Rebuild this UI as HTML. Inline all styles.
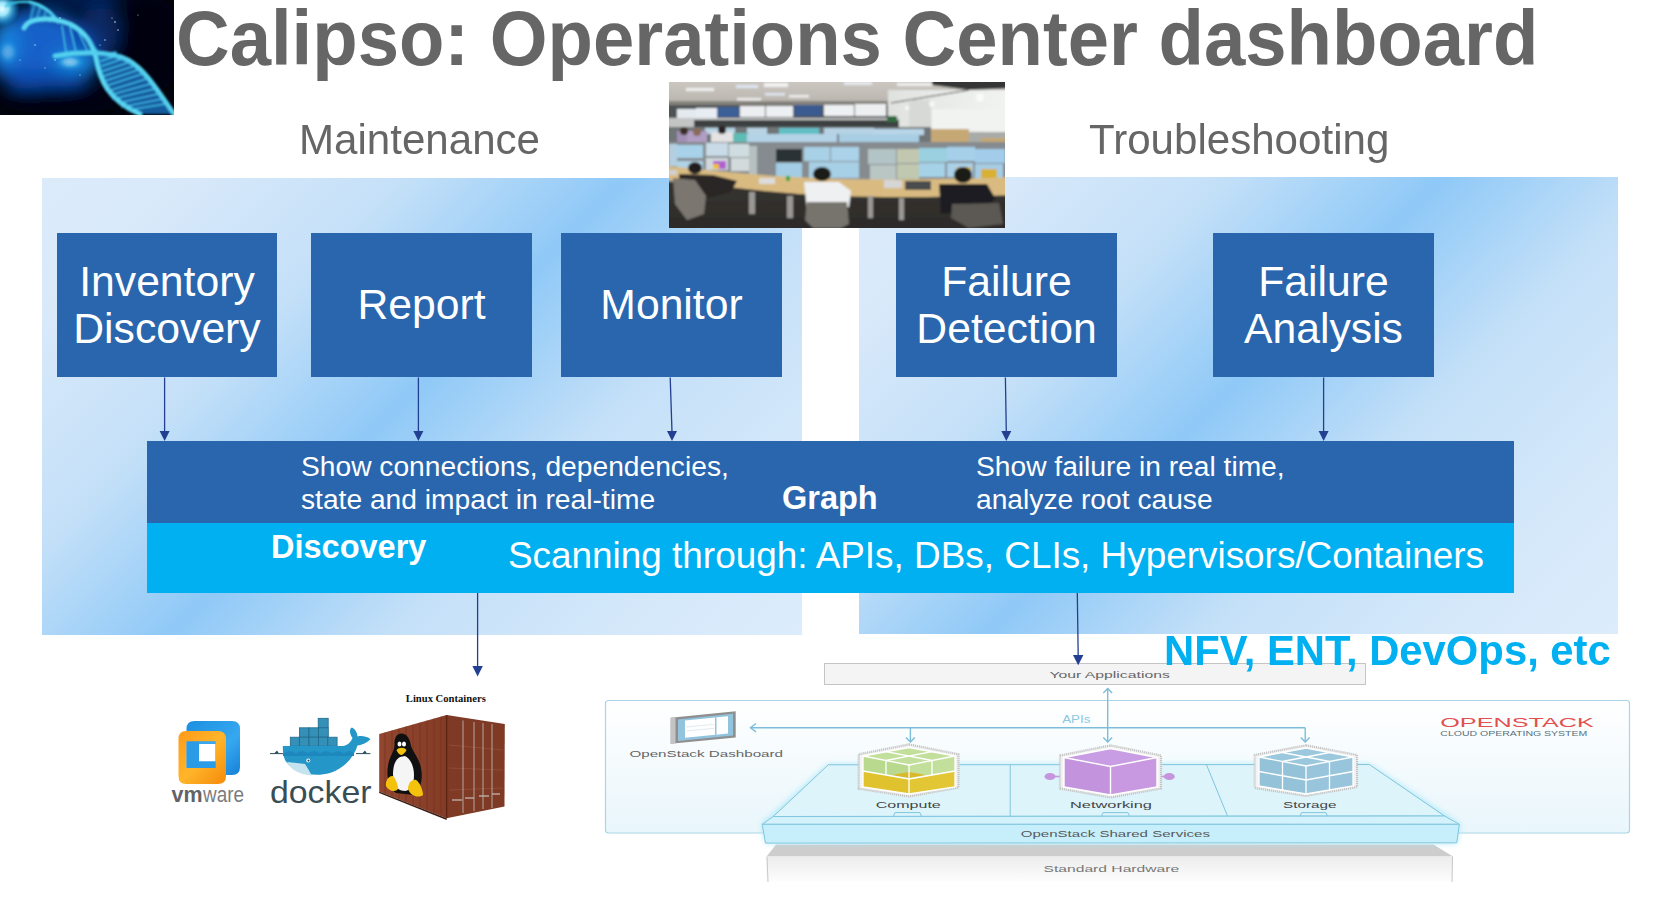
<!DOCTYPE html>
<html><head><meta charset="utf-8">
<style>
html,body{margin:0;padding:0;background:#fff;}
body{width:1663px;height:901px;position:relative;overflow:hidden;font-family:"Liberation Sans",sans-serif;}
.a{position:absolute;}
.t{position:absolute;white-space:nowrap;line-height:1;}
.panel{position:absolute;background:linear-gradient(135deg,#dcebfa 0%,#d8e9fa 12%,#c4e0f8 30%,#8fc9f7 48%,#c4e0f8 66%,#d4e8fa 84%,#dcecfb 100%);}
.box{position:absolute;background:#2966ae;color:#fff;font-size:42.7px;text-align:center;display:flex;align-items:center;justify-content:center;line-height:47.5px;}
</style></head>
<body>

<!-- DNA image -->
<svg class="a" style="left:0;top:0" width="174" height="115" viewBox="0 0 174 115">
  <defs>
    <radialGradient id="g1" cx="0.25" cy="0.45" r="0.6">
      <stop offset="0" stop-color="#1a8fe0"/><stop offset="0.5" stop-color="#0b4aa8"/><stop offset="1" stop-color="#020b2e"/>
    </radialGradient>
    <radialGradient id="g2" cx="0.6" cy="0.5" r="0.5">
      <stop offset="0" stop-color="#1577d0" stop-opacity="0.8"/><stop offset="1" stop-color="#03103a" stop-opacity="0"/>
    </radialGradient>
    <radialGradient id="tlglow"><stop offset="0" stop-color="#e8fcff"/><stop offset="0.35" stop-color="#9be6fb"/><stop offset="0.7" stop-color="#2aa8ea" stop-opacity="0.6"/><stop offset="1" stop-color="#1a80d8" stop-opacity="0"/></radialGradient><filter id="bl" x="-20%" y="-20%" width="140%" height="140%"><feGaussianBlur stdDeviation="0.8"/></filter><filter id="bl2" x="-50%" y="-50%" width="200%" height="200%"><feGaussianBlur stdDeviation="8"/></filter>
  </defs>
  <rect width="174" height="115" fill="#01040f"/>
  <g filter="url(#bl2)">
    <ellipse cx="45" cy="54" rx="56" ry="40" fill="#0c4fb8" opacity="0.95"/>
    <ellipse cx="35" cy="40" rx="40" ry="30" fill="#1468d0" opacity="0.8"/>
    <ellipse cx="75" cy="62" rx="22" ry="10" fill="#1a9be8" opacity="0.8"/>
    <ellipse cx="100" cy="30" rx="18" ry="30" fill="#0b3f9a" opacity="0.6"/>
    <ellipse cx="5" cy="45" rx="14" ry="25" fill="#1c8fe6" opacity="0.7"/>
    
    <ellipse cx="25" cy="6" rx="10" ry="8" fill="#000510"/>
    <ellipse cx="60" cy="100" rx="60" ry="14" fill="#01040f" opacity="0.8"/>
    <ellipse cx="150" cy="45" rx="34" ry="48" fill="#01040f" opacity="0.9"/>
    <ellipse cx="80" cy="-2" rx="45" ry="12" fill="#06205e" opacity="0.8"/>
  </g>
  <circle cx="2" cy="9" r="18" fill="url(#tlglow)"/><ellipse cx="70" cy="62" rx="16" ry="9" fill="url(#tlglow)" opacity="0.55"/><ellipse cx="8" cy="52" rx="12" ry="14" fill="url(#tlglow)" opacity="0.35"/>
  <g filter="url(#bl)">
    <path d="M96,58 C100,80 108,100 140,114 L174,114 C160,95 148,72 128,60 C112,52 100,52 96,58 Z" fill="#1a78cc" opacity="0.75"/>
    <path d="M30,2 C42,5 52,12 58,22 C50,20 40,19 30,21 Z" fill="#1a6cc0" opacity="0.6"/>
  </g>
  <g filter="url(#bl)" fill="none" stroke-linecap="round">
    <path d="M6,6 C12,2 20,1 30,2" stroke="#3bc7ea" stroke-width="2.5"/>
    <path d="M30,2 C42,5 52,12 58,22" stroke="#4fd4f0" stroke-width="3.2"/>
    <path d="M34,6 L30,20 M40,8 L36,21 M46,11 L43,21 M52,15 L50,22" stroke="#3ab8e0" stroke-width="1.3"/>
    <path d="M24,28 C28,18 50,16 70,24 C85,32 92,42 96,58 C100,80 108,100 140,114" stroke="#5cd8f2" stroke-width="5"/>
    <path d="M55,56 C75,52 108,50 128,60 C148,72 160,95 174,114" stroke="#52d0ee" stroke-width="5"/>
    <path d="M62,26 L66,52 M70,27 L76,52 M78,31 L88,52 M86,37 L98,52 M100,55 L116,52 M102,66 L125,58 M104,76 L134,66 M106,86 L142,74 M110,95 L150,84 M118,103 L158,94 M128,110 L165,104 M101,61 L120,55 M103,71 L130,62 M105,81 L138,70 M108,91 L146,79 M113,99 L154,89 M122,107 L162,99" stroke="#48c4ea" stroke-width="1.6"/>
  </g>
  <g fill="#bfefff">
    <circle cx="60" cy="18" r="0.7"/><circle cx="115" cy="22" r="0.8"/><circle cx="118" cy="30" r="0.7"/>
    <circle cx="112" cy="18" r="0.6"/><circle cx="105" cy="40" r="0.7"/><circle cx="100" cy="45" r="0.6"/>
    <circle cx="55" cy="60" r="0.7"/><circle cx="45" cy="68" r="0.6"/><circle cx="80" cy="75" r="0.6"/>
    <circle cx="20" cy="60" r="0.6"/><circle cx="35" cy="45" r="0.7"/><circle cx="138" cy="15" r="0.5"/>
  </g>
</svg>

<div class="t" style="left:176px;top:2.5px;transform:scaleY(1.04);transform-origin:0 62px;font-size:74.3px;font-weight:bold;color:#666;">Calipso: Operations Center dashboard</div>

<div class="t" style="left:299px;top:119px;font-size:42.1px;color:#666;transform:scaleY(1.028);transform-origin:0 35px;">Maintenance</div>
<div class="t" style="left:1089px;top:119px;font-size:42.1px;color:#666;transform:scaleY(1.028);transform-origin:0 35px;">Troubleshooting</div>

<div class="panel" style="left:42px;top:178px;width:760px;height:457px;"></div>
<div class="panel" style="left:859px;top:177px;width:759px;height:457px;"></div>

<!-- photo -->
<svg class="a" style="left:669px;top:82px" width="336" height="146" viewBox="0 0 336 146">
  <defs>
    <linearGradient id="ceil" x1="0" y1="0" x2="0" y2="1">
      <stop offset="0" stop-color="#d3cfc8"/><stop offset="1" stop-color="#b9b5ae"/>
    </linearGradient>
    <linearGradient id="floor" x1="0" y1="0" x2="0" y2="1">
      <stop offset="0" stop-color="#4b4742"/><stop offset="1" stop-color="#2b2927"/>
    </linearGradient>
    <linearGradient id="win" x1="0" y1="0" x2="1" y2="0">
      <stop offset="0" stop-color="#dfe2df"/><stop offset="1" stop-color="#f3f5f3"/>
    </linearGradient>
    <filter id="soft" x="-10%" y="-10%" width="120%" height="120%"><feGaussianBlur stdDeviation="0.9"/></filter>
  </defs>
  <rect width="336" height="146" fill="#3c3935"/>
  <g filter="url(#soft)">
  <rect x="-10" y="-10" width="356" height="166" fill="url(#floor)"/>
  <rect x="-10" y="-10" width="356" height="32" fill="url(#ceil)"/>
  <rect x="17" y="6" width="28" height="3" fill="#f0f0f0"/>
  <rect x="67" y="3" width="22" height="3" fill="#dfe6f2"/>
  <rect x="95" y="1" width="24" height="4" fill="#f2f2f2"/>
  <rect x="68" y="16" width="24" height="2.5" fill="#eeeeee"/>
  <rect x="96" y="11" width="20" height="2.5" fill="#dfe6f2"/>
  <rect x="120" y="13" width="20" height="2.5" fill="#eeeeee"/>
  <rect x="175" y="0" width="28" height="3" fill="#e8eaf0"/>
  <rect x="228" y="1" width="36" height="3" fill="#eeeeee"/>
  <rect x="-10" y="19" width="272" height="4" fill="#85827d"/>
  <!-- right bright area / windows -->
  <rect x="219" y="8" width="127" height="42" fill="url(#win)"/>
  <polygon points="263,-10 346,-10 346,6 300,8 263,3" fill="#353535"/><line x1="222" y1="21" x2="300" y2="8" stroke="#4a4a4a" stroke-width="1.2"/>
  <rect x="240" y="18" width="22" height="32" fill="#d7d9d6"/>
  <rect x="263" y="27" width="73" height="21" fill="#f1f3f1"/>
  <circle cx="311" cy="15.5" r="4" fill="#fafafa"/>
  <circle cx="263" cy="22" r="3" fill="#f6f6f6"/>
  <circle cx="238" cy="26" r="2.2" fill="#f6f6f6"/>
  <!-- wall displays -->
  <rect x="-10" y="23" width="229" height="14" fill="#4e5254"/>
  <rect x="8" y="27" width="19" height="9" fill="#e4eaf0"/>
  <rect x="27" y="26" width="21" height="10" fill="#e7edf2"/>
  <rect x="48" y="25" width="22" height="10" fill="#3b5e97"/>
  <rect x="71" y="24" width="25" height="11" fill="#eceef1"/>
  <rect x="97" y="24" width="27" height="11" fill="#edf0f2"/>
  <rect x="125" y="23" width="28" height="11" fill="#3a5a90"/>
  <rect x="155" y="23" width="30" height="11" fill="#eef1f3"/>
  <rect x="186" y="22" width="31" height="12" fill="#edf0f1"/>
  <rect x="-10" y="36" width="240" height="10" fill="#c2c5c4"/>
  <rect x="25" y="38" width="205" height="9" fill="#3e3f40"/>
  <rect x="218" y="34" width="10" height="6" fill="#2e6a3a"/>
  <!-- cabinets -->
  <rect x="262" y="47" width="38" height="18" fill="#c6a874"/>
  <rect x="300" y="50" width="46" height="18" fill="#a9aba8"/>
  <rect x="312" y="56" width="34" height="12" fill="#c3a775"/>
  <!-- back monitors -->
  <rect x="-10" y="45" width="272" height="20" fill="#6f7478"/>
  <rect x="36" y="46" width="30" height="6" fill="#b9d6e6"/>
  <rect x="78" y="46" width="20" height="6" fill="#b8d4e4"/>
  <rect x="110" y="46" width="40" height="6" fill="#62bfc6"/>
  <rect x="155" y="46" width="50" height="6" fill="#b6d2e4"/>
  <rect x="205" y="47" width="50" height="6" fill="#b9d6e8"/>
  <rect x="58" y="51" width="22" height="10" fill="#5fbcb4"/>
  <rect x="78" y="52" width="90" height="10" fill="#b4d3e6"/>
  <rect x="170" y="52" width="80" height="10" fill="#a9cee4"/>
  <rect x="8" y="49" width="22" height="14" fill="#a28fb5"/>
  <rect x="18" y="49" width="20" height="13" fill="#b19cc4"/>
  <rect x="42" y="50" width="22" height="12" fill="#e4e2e2"/>
  <circle cx="15" cy="49" r="4" fill="#3b2d28"/><circle cx="28" cy="50" r="4" fill="#8a6a58"/><circle cx="53" cy="48" r="4" fill="#2a2420"/>
  <!-- front monitors -->
  <rect x="-10" y="60" width="356" height="40" fill="#858b8f"/>
  <rect x="0" y="62" width="8" height="22" fill="#b4d0e0"/>
  <rect x="8" y="63" width="26" height="13" fill="#a8d2ea"/>
  <rect x="37" y="61" width="22" height="13" fill="#c8dbe6"/>
  <rect x="60" y="62" width="20" height="13" fill="#cfdde0"/>
  <rect x="80" y="64" width="8" height="32" fill="#b7c0c0"/>
  <rect x="107" y="67" width="26" height="13" fill="#2c3234"/>
  <rect x="107" y="81" width="26" height="15" fill="#a2cde4"/>
  <rect x="135" y="65" width="26" height="14" fill="#a8d0e6"/>
  <rect x="162" y="65" width="28" height="14" fill="#abd2e8"/>
  <rect x="140" y="80" width="50" height="16" fill="#a7cfe6"/>
  <rect x="199" y="67" width="28" height="15" fill="#b3c4c6"/>
  <rect x="201" y="83" width="26" height="17" fill="#b9c6c4"/>
  <rect x="228" y="67" width="22" height="14" fill="#c2c8b0"/>
  <rect x="228" y="82" width="22" height="15" fill="#c0c8b0"/>
  <rect x="250" y="66" width="28" height="14" fill="#9bd0e0"/>
  <rect x="250" y="81" width="26" height="14" fill="#a6d2e8"/>
  <rect x="278" y="65" width="28" height="14" fill="#a6d0ea"/>
  <rect x="278" y="81" width="26" height="14" fill="#a9d0e6"/>
  <rect x="306" y="67" width="30" height="14" fill="#a2ccea"/>
  <rect x="306" y="82" width="28" height="15" fill="#a6cde6"/>
  <rect x="8" y="79" width="26" height="13" fill="#b0d2e6"/>
  <rect x="37" y="76" width="22" height="12" fill="#d0d8dc"/>
  <rect x="44" y="79" width="13" height="8" fill="#b15fd0"/>
  <rect x="44" y="82" width="6" height="5" fill="#f0c020"/>
  <rect x="62" y="76" width="18" height="13" fill="#d2dadc"/>
  <rect x="288" y="85" width="14" height="8" fill="#e0b830"/>
  <rect x="312" y="87" width="16" height="9" fill="#d8b030"/>
  <!-- desk -->
  <path d="M-10,83 C50,90 110,95 170,97 C230,98 290,97 346,95 L346,113 C280,115 220,116 170,114 C110,112 50,104 -10,97 Z" fill="#d9bb82"/>
  <!-- desk legs -->
  <rect x="80" y="110" width="6" height="22" fill="#9a9894"/>
  <rect x="118" y="114" width="6" height="22" fill="#9a9894"/>
  <rect x="199" y="114" width="5" height="22" fill="#9a9894"/>
  <rect x="230" y="116" width="5" height="22" fill="#9a9894"/>
  <!-- people -->
  <ellipse cx="26" cy="86" rx="7" ry="6" fill="#231e1b"/>
  <path d="M10,92 L44,93 L68,99 L62,110 L30,118 L10,112 Z" fill="#2b2725"/>
  <path d="M4,96 L26,98 L37,114 L35,132 L18,138 L6,122 Z" fill="#7b7670"/>
  <ellipse cx="153" cy="92" rx="9" ry="7" fill="#1e1a18"/>
  <path d="M135,100 L170,100 L182,109 L180,125 L138,128 Z" fill="#eef0f2"/>
  <path d="M138,120 L178,120 L180,142 L172,146 L144,146 L136,138 Z" fill="#77736d"/>
  <ellipse cx="294" cy="93" rx="9" ry="8" fill="#1c1a18"/>
  <path d="M270,102 L318,102 L326,116 L316,130 L272,132 Z" fill="#1f1f21"/>
  <path d="M283,122 L330,121 L334,142 L300,146 L282,136 Z" fill="#5c5852"/>
  <rect x="90" y="96" width="16" height="6" fill="#dcdcdc"/>
  <rect x="117" y="94" width="4" height="5" fill="#37a543"/>
  <rect x="215" y="98" width="18" height="8" fill="#d6d6d6"/>
  <rect x="236" y="99" width="26" height="9" fill="#4a4c4e"/>
  <rect x="0" y="88" width="8" height="5" fill="#d0d0d0"/>
  </g>
</svg>

<div class="box" style="left:57px;top:233px;width:220px;height:144px;">Inventory<br>Discovery</div>
<div class="box" style="left:311px;top:233px;width:221px;height:144px;">Report</div>
<div class="box" style="left:561px;top:233px;width:221px;height:144px;">Monitor</div>
<div class="box" style="left:896px;top:233px;width:221px;height:144px;">Failure<br>Detection</div>
<div class="box" style="left:1213px;top:233px;width:221px;height:144px;">Failure<br>Analysis</div>

<div class="a" style="left:147px;top:441px;width:1367px;height:82px;background:#2966ae;"></div>
<div class="a" style="left:147px;top:523px;width:1367px;height:70px;background:#00b0f0;"></div>

<div class="t" style="left:301px;top:450px;font-size:28.2px;line-height:32.5px;color:#fff;">Show connections, dependencies,<br>state and impact in real-time</div>
<div class="t" style="left:782px;top:482px;font-size:32.5px;font-weight:bold;color:#fff;">Graph</div>
<div class="t" style="left:976px;top:450px;font-size:28.2px;line-height:32.5px;color:#fff;">Show failure in real time,<br>analyze root cause</div>
<div class="t" style="left:271px;top:531px;font-size:32.5px;font-weight:bold;color:#fff;">Discovery</div>
<div class="t" style="left:508px;top:538px;font-size:36.9px;color:#fff;">Scanning through: APIs, DBs, CLIs, Hypervisors/Containers</div>

<!-- logos -->
<svg class="a" style="left:160px;top:680px" width="360" height="150" viewBox="160 680 360 150" font-family="Liberation Sans, sans-serif">
  <defs>
    <linearGradient id="vmb" x1="0" y1="0" x2="1" y2="1">
      <stop offset="0" stop-color="#1b8fe0"/><stop offset="0.6" stop-color="#36a8f0"/><stop offset="1" stop-color="#1680d6"/>
    </linearGradient>
    <linearGradient id="vmo" x1="0" y1="0" x2="1" y2="1">
      <stop offset="0" stop-color="#ff9a1a"/><stop offset="0.5" stop-color="#ffb52a"/><stop offset="1" stop-color="#f58a0a"/>
    </linearGradient>
    <linearGradient id="cont" x1="0" y1="0" x2="1" y2="0">
      <stop offset="0" stop-color="#924630"/><stop offset="1" stop-color="#843c26"/>
    </linearGradient>
  </defs>
  <!-- vmware -->
  <path fill-rule="evenodd" fill="url(#vmb)" d="M194.5,721 H232 Q240,721 240,729 V767 Q240,775 232,775 H194.5 Q186.5,775 186.5,767 V729 Q186.5,721 194.5,721 Z M199,744 V761.5 H215.5 V744 Z"/>
  <path fill-rule="evenodd" fill="url(#vmo)" d="M186,731 H218 Q226,731 226,739 V776 Q226,784 218,784 H186 Q178.5,784 178.5,776 V739 Q178.5,731 186,731 Z M186.5,741.5 V768 H215.5 V741.5 Z"/>
  <path fill="#2a9be6" d="M186.5,741.5 H199 V768 H186.5 Z"/>
  <path fill="#2a9be6" d="M199,761.5 H215.5 V768 H199 Z"/>
  <path fill="#3aa6ee" d="M199,741.5 H215.5 V744 H199 Z"/>
  <text x="171.5" y="801.5" font-size="21.8" font-weight="bold" fill="#626366" textLength="31" lengthAdjust="spacingAndGlyphs">vm</text>
  <text x="203" y="801.5" font-size="21.8" fill="#7b7c7e" textLength="41" lengthAdjust="spacingAndGlyphs">ware</text>
  <!-- docker -->
  <g stroke="#1f6a8c" stroke-width="0.8" fill="#3590b8">
    <rect x="318.2" y="718.3" width="10" height="9.5"/>
    <rect x="299.4" y="727.8" width="9.6" height="9.4"/><rect x="309" y="727.8" width="9.6" height="9.4"/><rect x="318.6" y="727.8" width="9.7" height="9.4"/>
    <rect x="290.3" y="737.2" width="9.3" height="9"/><rect x="299.6" y="737.2" width="9.4" height="9"/><rect x="309" y="737.2" width="9.4" height="9"/><rect x="318.4" y="737.2" width="9.4" height="9"/><rect x="327.8" y="737.2" width="9.3" height="9"/>
  </g>
  <path fill="#2496c8" d="M282.8,746.1 L342.7,746.1 C347,745.5 350.5,743 352.5,738 C349,733 349.5,728.5 352,727.5 C355,729 357.5,733 357.5,736.5 C361,735.5 366,736 370.4,738.9 C367,743 361,745 357.5,745.5 C354,757 345,768 330,773 C312,778 292,772 285,760 C283,756 282.8,750 282.8,746.1 Z"/>
  <path fill="#c5e3ee" d="M287,762 C293,763 300,763 305,764 C308,768 310,773 312,775.5 C300,775 291,770 287,762 Z"/>
  <path fill="none" stroke="#2d4f5e" stroke-width="1" d="M270,753.6 L283,753.6 M356,753.6 L370.4,753.6"/><path fill="#2d4f5e" d="M274,753.6 L277,750.5 L279,753.6 Z M362,753.6 L365,750.5 L367,753.6 Z"/>
  <path fill="#1d88bd" d="M283,753.3 C288,750.5 292,750.5 296,753.3 C300,750.5 304,750.5 308,753.3 C312,750.5 316,750.5 320,753.3 C324,750.5 328,750.5 332,753.3 C336,750.5 340,750.5 344,753.3 C347,751 350,750 354,753.3 L354,756 L283,756 Z"/>
  <circle cx="308.3" cy="760.5" r="2" fill="#ffffff"/><circle cx="308.5" cy="760.6" r="1.1" fill="#2d4f5e"/>
  <text x="270" y="803.2" font-size="31.5" fill="#394d54" textLength="101.5" lengthAdjust="spacingAndGlyphs">docker</text>
  <!-- linux containers -->
  <text x="405.8" y="701.6" font-family="Liberation Serif, serif" font-weight="bold" font-size="11" fill="#111" textLength="80" lengthAdjust="spacingAndGlyphs">Linux Containers</text>
  <polygon points="379.2,734 446.6,715 446.6,818.2 379.2,791.5" fill="url(#cont)"/>
  <polygon points="446.6,715 504.8,724.1 504.5,806.5 446.6,818.2" fill="#7f3a25"/><g stroke="#93503a" stroke-width="1" opacity="0.8"><line x1="449" y1="745" x2="503" y2="750"/><line x1="449" y1="768" x2="503" y2="770"/><line x1="449" y1="790" x2="503" y2="788"/></g><g stroke="#c8c2bb" stroke-width="1.2"><line x1="452" y1="800" x2="462" y2="800"/><line x1="465" y1="798" x2="474" y2="798"/><line x1="479" y1="796" x2="489" y2="796"/><line x1="492" y1="794" x2="500" y2="794"/></g>
  <g stroke="#6a2a17" stroke-width="0.7" opacity="0.7">
    <line x1="385" y1="732.5" x2="385" y2="793.8"/><line x1="392" y1="730.5" x2="392" y2="796.5"/><line x1="399" y1="728.5" x2="399" y2="799.3"/><line x1="406" y1="726.5" x2="406" y2="802"/><line x1="413" y1="724.5" x2="413" y2="804.8"/><line x1="420" y1="722.5" x2="420" y2="807.5"/><line x1="427" y1="720.5" x2="427" y2="810.3"/><line x1="434" y1="718.5" x2="434" y2="813"/><line x1="441" y1="716.5" x2="441" y2="815.8"/>
  </g>
  <g stroke="#b9b3ad" stroke-width="1" opacity="0.9">
    <line x1="463" y1="720.5" x2="463" y2="813"/><line x1="474" y1="722" x2="474" y2="811"/><line x1="483" y1="723" x2="483" y2="809"/><line x1="492" y1="724" x2="492" y2="808"/>
  </g>
  <line x1="446.6" y1="715" x2="446.6" y2="818.2" stroke="#5e2514" stroke-width="1.5"/>
  <polygon points="379.2,791.5 446.6,818.2 446.6,820 379.2,793" fill="#3b1a10"/>
  <!-- tux -->
  <path fill="#101010" d="M401.5,733.5 C396,733.5 394,739 394.5,746 C394,752 389,757 388,766 C386,777 389,788 396,793 L414,795 C421,790 423,778 421,768 C419,758 413,752 411,746 C410,739 407,733.5 401.5,733.5 Z"/>
  <path fill="#f5f5f5" d="M400,757 C394,760 392,770 393.5,780 C395,788 400,791 405,791 C411,790 414,784 414,775 C414,766 410,758 405,756 Z"/>
  <ellipse cx="399.5" cy="744" rx="2" ry="2.6" fill="#fff"/><ellipse cx="404" cy="744" rx="2" ry="2.6" fill="#fff"/>
  <path fill="#f4c20d" d="M396.5,750 C399,747 404,747 406.5,750 C405,753.5 402,755 401.5,755 C400,755 397.5,753 396.5,750 Z"/>
  <path fill="#f4c20d" d="M386,786 C385,781 389,775 393,776 C396,779 398,785 398,789 C396,792 389,792 386,786 Z"/>
  <path fill="#f4c20d" d="M408,789 C408,783 412,779 416,780 C420,782 423,791 423,795 C419,798 411,797 408,789 Z"/>
</svg>

<!-- openstack -->
<svg class="a" style="left:600px;top:655px" width="1040" height="240" viewBox="600 655 1040 240" font-family="Liberation Sans, sans-serif">
  <defs>
    <linearGradient id="osbg" x1="0" y1="0" x2="0" y2="1">
      <stop offset="0" stop-color="#ffffff"/><stop offset="1" stop-color="#e9f6fb"/>
    </linearGradient>
    <linearGradient id="hwf" x1="0" y1="0" x2="0" y2="1">
      <stop offset="0" stop-color="#ececec"/><stop offset="1" stop-color="#fdfdfd"/>
    </linearGradient>
    <filter id="glow" x="-10%" y="-40%" width="120%" height="180%"><feGaussianBlur stdDeviation="3"/></filter>
  </defs>
  <!-- Your applications -->
  <rect x="824.5" y="663.5" width="541" height="21" fill="#f4f4f4" stroke="#c4c4c4" stroke-width="1"/>
  <text x="1049.5" y="677.7" font-size="9.8" fill="#666" textLength="120.3" lengthAdjust="spacingAndGlyphs">Your Applications</text>
  <!-- outer box -->
  <rect x="605.5" y="700.5" width="1024" height="132.5" rx="3" fill="url(#osbg)" stroke="#a9d5e8" stroke-width="1.2"/>
  <!-- OPENSTACK -->
  <text x="1440.3" y="726.8" font-size="13.5" fill="#e24f4f" textLength="153.4" lengthAdjust="spacingAndGlyphs">OPENSTACK</text>
  <text x="1440.3" y="736.4" font-size="7.8" fill="#56707c" textLength="147" lengthAdjust="spacingAndGlyphs">CLOUD OPERATING SYSTEM</text>
  <!-- dashboard icon -->
  <polygon points="670.7,717.7 735.7,711.3 735.7,737.5 670.7,743.8" fill="#8f8f8f"/>
  <polygon points="670.7,717.7 675.5,717.2 675.5,743.3 670.7,743.8" fill="#c4c4c4"/>
  <polygon points="678,719.5 733,713.8 733,735.5 678,741" fill="#93c4de"/>
  <polygon points="685,720.5 728,716.2 728,733.6 685,737.8" fill="#ffffff"/>
  <polygon points="715,717.4 715,734.9 716.5,734.8 716.5,717.3" fill="#93c4de"/>
  <line x1="686" y1="727" x2="714" y2="724.3" stroke="#c8dde8" stroke-width="0.6"/>
  <line x1="686" y1="731" x2="714" y2="728.3" stroke="#c8dde8" stroke-width="0.6"/>
  <text x="629.4" y="756.6" font-size="9.8" fill="#666" textLength="153.7" lengthAdjust="spacingAndGlyphs">OpenStack Dashboard</text>
  <!-- API lines -->
  <g stroke="#7dbdd9" stroke-width="1.4" fill="none">
    <line x1="750.5" y1="727.7" x2="1305.2" y2="727.7"/>
    <polyline points="756,723.5 750.5,727.7 756,731.9"/>
    <line x1="910.4" y1="727.7" x2="910.4" y2="742"/>
    <polyline points="906,737.5 910.4,742 914.8,737.5"/>
    <line x1="1305.2" y1="727.7" x2="1305.2" y2="742"/>
    <polyline points="1300.8,737.5 1305.2,742 1309.6,737.5"/>
    <line x1="1107.7" y1="688.5" x2="1107.7" y2="742"/>
    <polyline points="1103.3,693 1107.7,688.5 1112.1,693"/>
    <polyline points="1103.3,737.5 1107.7,742 1112.1,737.5"/>
  </g>
  <text x="1062.2" y="722.8" font-size="10" fill="#8ccae2" textLength="28.2" lengthAdjust="spacingAndGlyphs">APIs</text>
  <!-- hardware -->
  <polygon points="776,844.5 1433.4,844.5 1453,856.5 766.6,856.5" fill="#cdcdcd"/>
  <rect x="766.6" y="856.5" width="686.4" height="25" fill="url(#hwf)"/>
  <line x1="767" y1="856.5" x2="768" y2="882" stroke="#c8c8c8" stroke-width="1"/>
  <line x1="1452.5" y1="856.5" x2="1452" y2="882" stroke="#c8c8c8" stroke-width="1"/>
  <text x="1043.6" y="872.2" font-size="9.8" fill="#777" textLength="135.5" lengthAdjust="spacingAndGlyphs">Standard Hardware</text>
  <!-- platform glow -->
  <polygon points="828,764.5 1369.5,764.5 1459.5,824 1457,843 765.5,843 762,824" fill="#a6e6f8" filter="url(#glow)" opacity="0.9"/>
  <!-- platform -->
  <polygon points="828.3,764.8 1369.3,764.5 1444.5,816 773.3,816.5" fill="#ddf4fb" stroke="#80c6de" stroke-width="1"/>
  <polygon points="773.3,816.5 1444.5,816 1459.3,824.3 762.2,824.3" fill="#d4f2fb" stroke="#80c6de" stroke-width="1"/>
  <polygon points="762.2,824.3 1459.3,824.3 1456.8,842.8 765.5,843.1" fill="#c6effb" stroke="#80c6de" stroke-width="1"/>
  <line x1="1010.2" y1="765" x2="1010.2" y2="816" stroke="#80c6de" stroke-width="1"/>
  <line x1="1206.4" y1="764.5" x2="1227.5" y2="816" stroke="#80c6de" stroke-width="1"/>
  <g fill="none" stroke="#80c6de" stroke-width="1">
    <polyline points="893.5,816.2 895,812.6 920,812.6 921.5,816.2"/>
    <polyline points="1101.5,816.2 1103,812.6 1128,812.6 1129.5,816.2"/>
    <polyline points="1300,816.2 1301.5,812.6 1326,812.6 1327.5,816.2"/>
  </g>
  <text x="1020.7" y="837.2" font-size="9.8" fill="#5a5a5a" textLength="189.3" lengthAdjust="spacingAndGlyphs">OpenStack Shared Services</text>
  <text x="875.8" y="807.8" font-size="9.8" fill="#454545" textLength="65" lengthAdjust="spacingAndGlyphs">Compute</text>
  <text x="1070" y="807.7" font-size="9.8" fill="#454545" textLength="82" lengthAdjust="spacingAndGlyphs">Networking</text>
  <text x="1283" y="808.4" font-size="9.8" fill="#454545" textLength="53.5" lengthAdjust="spacingAndGlyphs">Storage</text>
  <!-- compute cube -->
  <g>
    <polygon points="909,744.4 958.5,754.3 958.5,787.6 909,796.5 858.7,788.7 858.7,754.3" fill="#f3f3f3" stroke="#c4c4c4" stroke-width="2.2" stroke-dasharray="1.2 0.8"/>
    <polygon points="909,747.5 955,756 909,765 863,756" fill="#c2df9b"/>
    <polygon points="863,756 909,765 909,779 863,771" fill="#b9da8e"/>
    <polygon points="909,765 955,756 955,771 909,779" fill="#c3df9c"/>
    <polygon points="863,771 909,779 909,794 863,787" fill="#e0c22e"/>
    <polygon points="909,779 955,771 955,787 909,794" fill="#e3c634"/>
    <polygon points="892,775 909,772 926,775 909,778" fill="#d9b82a"/>
    <g stroke="#ffffff" stroke-width="1.3" fill="none">
      <polyline points="863,756 909,765 955,756"/>
      <line x1="909" y1="765" x2="909" y2="794"/>
      <polyline points="863,771 909,779 955,771"/>
      <line x1="886" y1="751.7" x2="932" y2="760.5"/>
      <line x1="932" y1="751.7" x2="886" y2="760.5"/>
      <line x1="886" y1="760.5" x2="886" y2="775"/>
      <line x1="932" y1="760.5" x2="932" y2="775"/>
      <polygon points="863,756 909,747.5 955,756 955,787 909,794 863,787"/>
    </g>
  </g>
  <!-- networking cube -->
  <g>
    <line x1="1048" y1="776.5" x2="1066" y2="776.5" stroke="#c596de" stroke-width="1.6"/>
    <line x1="1155" y1="776.5" x2="1172" y2="776.5" stroke="#c596de" stroke-width="1.6"/>
    <ellipse cx="1050" cy="776.5" rx="5.5" ry="3.6" fill="#c596de"/>
    <ellipse cx="1169.3" cy="776.5" rx="5.5" ry="3.6" fill="#c596de"/>
    <polygon points="1110.5,745.4 1161,755.5 1161,788.5 1110.5,797.5 1060,788.5 1060,755.5" fill="#f3f3f3" stroke="#c4c4c4" stroke-width="2.2" stroke-dasharray="1.2 0.8"/>
    <polygon points="1110.5,748.5 1157,757.5 1110.5,766.5 1064,757.5" fill="#c99de3"/>
    <polygon points="1064,757.5 1110.5,766.5 1110.5,795 1064,787" fill="#c394dd"/>
    <polygon points="1110.5,766.5 1157,757.5 1157,787 1110.5,795" fill="#c898e0"/>
    <g stroke="#ffffff" stroke-width="1.4" fill="none">
      <polyline points="1064,757.5 1110.5,766.5 1157,757.5"/>
      <line x1="1110.5" y1="766.5" x2="1110.5" y2="795"/>
      <polygon points="1064,757.5 1110.5,748.5 1157,757.5 1157,787 1110.5,795 1064,787"/>
    </g>
  </g>
  <!-- storage cube -->
  <g>
    <polygon points="1306,745.3 1357,755 1357,787 1306,795.9 1254.7,788 1254.7,755" fill="#f3f3f3" stroke="#c4c4c4" stroke-width="2.2" stroke-dasharray="1.2 0.8"/>
    <polygon points="1306,748 1353,757 1306,766 1259,757" fill="#9cc8dd"/>
    <polygon points="1259,757 1306,766 1306,794 1259,786" fill="#94c2d9"/>
    <polygon points="1306,766 1353,757 1353,786 1306,794" fill="#98c5db"/>
    <g stroke="#ffffff" stroke-width="1.3" fill="none">
      <polyline points="1259,757 1306,766 1353,757"/>
      <line x1="1306" y1="766" x2="1306" y2="794"/>
      <polyline points="1259,771.5 1306,780 1353,771.5"/>
      <line x1="1282.5" y1="752.5" x2="1329.5" y2="761.5"/>
      <line x1="1329.5" y1="752.5" x2="1282.5" y2="761.5"/>
      <line x1="1282.5" y1="761.5" x2="1282.5" y2="790"/>
      <line x1="1329.5" y1="761.5" x2="1329.5" y2="790"/>
      <polygon points="1259,757 1306,748 1353,757 1353,786 1306,794 1259,786"/>
    </g>
  </g>
</svg>

<!-- arrows -->
<svg class="a" style="left:0;top:0" width="1663" height="901" viewBox="0 0 1663 901">
  <g stroke="#223f92" stroke-width="1.3" fill="none">
    <line x1="164.6" y1="377.5" x2="164.6" y2="432"/>
    <line x1="418.4" y1="377.5" x2="418.4" y2="432"/>
    <line x1="670.2" y1="377.5" x2="672" y2="432"/>
    <line x1="1005.4" y1="377.5" x2="1006.3" y2="432"/>
    <line x1="1323.6" y1="377.5" x2="1323.6" y2="432"/>
    <line x1="477.6" y1="593" x2="477.6" y2="667"/>
    <line x1="1077.3" y1="593" x2="1078.2" y2="656"/>
  </g>
  <g fill="#223f92">
    <polygon points="159.6,431 169.6,431 164.6,441"/>
    <polygon points="413.4,431 423.4,431 418.4,441"/>
    <polygon points="667,431 677,431 672,441"/>
    <polygon points="1001.3,431 1011.3,431 1006.3,441"/>
    <polygon points="1318.6,431 1328.6,431 1323.6,441"/>
    <polygon points="472.4,666 482.8,666 477.6,676.5"/>
    <polygon points="1073,655 1083.4,655 1078.2,665.3"/>
  </g>
</svg>

<div class="t" style="left:1164px;top:630px;font-size:41.8px;font-weight:bold;color:#00b0f0;">NFV, ENT, DevOps, etc</div>

</body></html>
